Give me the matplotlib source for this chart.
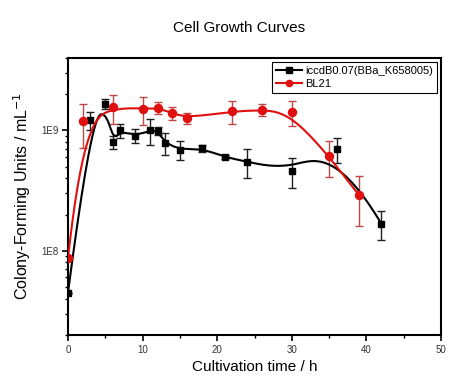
import numpy as np
import matplotlib
matplotlib.use("Agg")
import matplotlib.pyplot as plt
from matplotlib.ticker import LogLocator, NullFormatter, FixedLocator

plt.rcParams['font.family'] = ['Liberation Sans', 'DejaVu Sans']

# iccdB0.07(BBa_K658005)
t_iccdb = [0, 3, 5, 6, 7, 9, 11, 12, 13, 15, 18, 21, 24, 30, 36, 42]
cfu_iccdb = [4.5e7, 1.21e9, 1.66e9, 0.80e9, 1.0e9, 0.90e9, 1.0e9, 0.99e9,
             0.79e9, 0.69e9, 0.71e9, 0.60e9, 0.55e9, 0.46e9, 0.70e9, 0.168e9]
err_iccdb = [0, 0.2e9, 0.15e9, 0.10e9, 0.14e9, 0.12e9, 0.25e9, 0.07e9,
             0.17e9, 0.12e9, 0.05e9, 0.02e9, 0.15e9, 0.13e9, 0.16e9, 0.045e9]

# BL21
t_bl21 = [0, 2, 6, 10, 12, 14, 16, 22, 26, 30, 35, 39]
cfu_bl21 = [8.7e7, 1.19e9, 1.56e9, 1.51e9, 1.54e9, 1.39e9, 1.27e9, 1.44e9,
            1.48e9, 1.41e9, 0.61e9, 0.29e9]
err_bl21 = [0, 0.48e9, 0.42e9, 0.40e9, 0.17e9, 0.18e9, 0.13e9, 0.30e9,
            0.17e9, 0.33e9, 0.20e9, 0.13e9]


# clamped cubic B-spline with the data points as control points,
# evaluated in log space
def bspline(x, y, num=500, k=3):
    pts = np.column_stack([x, np.log10(y)])
    n = len(pts)
    knots = np.concatenate([np.zeros(k), np.arange(n - k + 1), np.full(k, n - k)])
    t = np.linspace(0, n - k, num)
    N = np.zeros((num, len(knots) - 1))
    for i in range(len(knots) - 1):
        N[:, i] = (knots[i] <= t) & (t < knots[i + 1])
    N[-1, n - 1] = 1
    for d in range(1, k + 1):
        Nn = np.zeros((num, len(knots) - 1 - d))
        for i in range(len(knots) - 1 - d):
            den1 = knots[i + d] - knots[i]
            den2 = knots[i + d + 1] - knots[i + 1]
            a = (t - knots[i]) / den1 * N[:, i] if den1 > 0 else 0
            b = (knots[i + d + 1] - t) / den2 * N[:, i + 1] if den2 > 0 else 0
            Nn[:, i] = a + b
        N = Nn
    c = N @ pts
    return c[:, 0], 10 ** c[:, 1]


fig = plt.figure(figsize=(4.74, 3.89), dpi=100)
ax = fig.add_axes([0.1435, 0.139, 0.787, 0.712])

red = '#e01010'
red_err = '#c04848'

# curves
bx, by = bspline(t_iccdb, cfu_iccdb)
ax.plot(bx, by, color='black', lw=1.5, zorder=3)
rx, ry = bspline(t_bl21, cfu_bl21)
ax.plot(rx, ry, color=red, lw=1.5, zorder=3)

# error bars and markers
ax.errorbar(t_iccdb, cfu_iccdb, yerr=err_iccdb, fmt='none', ecolor='#202020',
            elinewidth=1, capsize=3, capthick=1, zorder=2)
ax.errorbar(t_bl21, cfu_bl21, yerr=err_bl21, fmt='none', ecolor=red_err,
            elinewidth=1, capsize=3, capthick=1, zorder=2)
ax.plot(t_iccdb, cfu_iccdb, 's', color='black', ms=4.8, zorder=4)
ax.plot(t_bl21, cfu_bl21, 'o', color=red, ms=5.8, zorder=4)

# legend handles
ax.plot([], [], '-s', color='black', ms=4, lw=1.5, label='iccdB0.07(BBa_K658005)')
ax.plot([], [], '-o', color=red, ms=4.5, lw=1.5, label='BL21')
leg = ax.legend(loc='upper right', bbox_to_anchor=(0.99, 0.985), fontsize=8,
                frameon=True, fancybox=False, edgecolor='black', framealpha=1,
                handlelength=2.4, handletextpad=0.3, borderpad=0.35,
                labelspacing=0.3, borderaxespad=0)
leg.get_frame().set_linewidth(0.8)

ax.set_yscale('log')
ax.set_xlim(0, 50)
ax.set_ylim(2e7, 4e9)
ax.set_xticks([0, 10, 20, 30, 40, 50])
ax.xaxis.set_minor_locator(FixedLocator([5, 15, 25, 35, 45]))
ax.yaxis.set_major_locator(FixedLocator([1e8, 1e9]))
ax.set_yticklabels(['1E8', '1E9'])
ax.yaxis.set_minor_locator(LogLocator(base=10, subs=np.arange(2, 10)))
ax.yaxis.set_minor_formatter(NullFormatter())

for s in ax.spines.values():
    s.set_linewidth(1.5)
ax.tick_params(which='major', direction='out', length=4, width=1.2,
               labelsize=7, colors='black', labelcolor='#333333', pad=3)
ax.tick_params(which='minor', direction='out', length=2.5, width=1)

ax.set_xlabel('Cultivation time / h', fontsize=11, labelpad=4)
ax.set_ylabel('Colony-Forming Units / mL$^{-1}$', fontsize=11.5, labelpad=6)
fig.text(0.504, 0.928, 'Cell Growth Curves', ha='center', va='center', fontsize=11)

fig.savefig('out.png', dpi=100)
